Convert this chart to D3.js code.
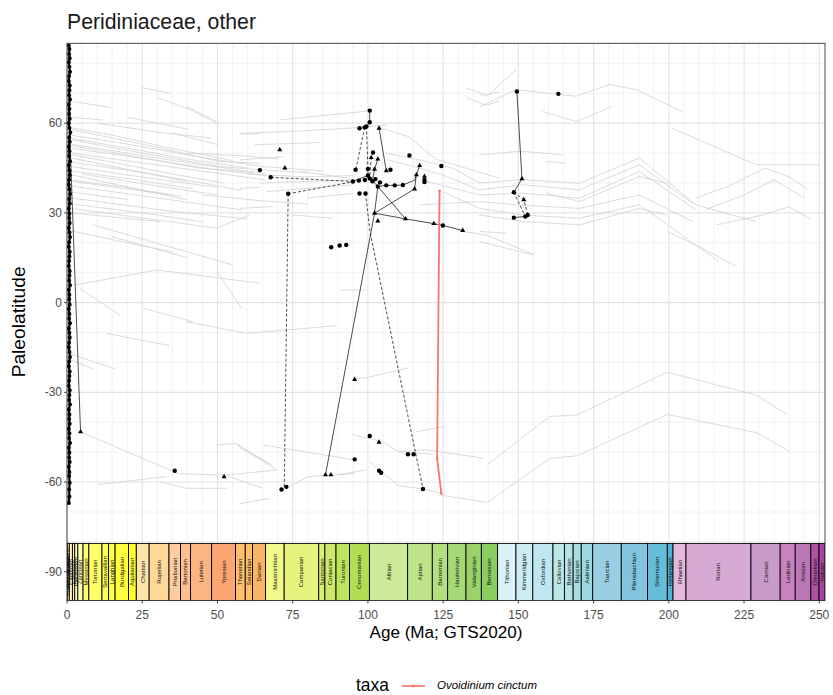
<!DOCTYPE html>
<html><head><meta charset="utf-8">
<script src="https://cdn.jsdelivr.net/npm/d3@7"></script>
<style>body{margin:0;background:#fff;} text{font-family:"Liberation Sans", Arial, Helvetica, sans-serif;}</style>
</head><body>
<svg id="chart" width="833" height="695"></svg>
<script>
// ---------------- data ----------------
const chartTitle = "Peridiniaceae, other";
const xTicks = [0, 25, 50, 75, 100, 125, 150, 175, 200, 225, 250];
const yTicks = [-90, -60, -30, 0, 30, 60];

const stageNames = ["Meghalayan","Northgrippian","Greenlandian","Upper Pleistocene","Chibanian","Calabrian","Gelasian","Piacenzian","Zanclean","Messinian","Tortonian","Serravallian","Langhian","Burdigalian","Aquitanian","Chattian","Rupelian","Priabonian","Bartonian","Lutetian","Ypresian","Thanetian","Selandian","Danian","Maastrichtian","Campanian","Santonian","Coniacian","Turonian","Cenomanian","Albian","Aptian","Barremian","Hauterivian","Valanginian","Berriasian","Tithonian","Kimmeridgian","Oxfordian","Callovian","Bathonian","Bajocian","Aalenian","Toarcian","Pliensbachian","Sinemurian","Hettangian","Rhaetian","Norian","Carnian","Ladinian","Anisian","Olenekian","Induan"];
const stageBases = [0.0042,0.0082,0.0117,0.129,0.774,1.80,2.58,3.60,5.333,7.246,11.63,13.82,15.98,20.44,23.03,27.3,33.9,37.71,41.03,48.07,56.0,59.24,61.66,66.0,72.17,83.65,85.7,89.4,93.9,100.5,113.2,121.4,126.5,132.6,137.7,143.1,149.2,154.8,161.5,165.3,168.2,170.9,174.7,184.2,192.9,199.5,201.4,205.7,227.3,237.0,242.0,247.2,249.9,251.9];
const stageColors = ["#FDEDEC","#FDECE4","#FEECDB","#FFF2D3","#FFF2C7","#FFF2BA","#FFEDB3","#FFFFBF","#FFFFB3","#FFFF73","#FFFF66","#FFFF59","#FFFF4D","#FFFF41","#FFFF33","#FEE6AA","#FED99A","#FDCDA1","#FDC091","#FCB482","#FCA773","#FDBF6F","#FEBF65","#FDB462","#F2FA8C","#E6F47F","#D9EF74","#CCE968","#BFE35D","#B3DE53","#CCEA97","#BFE48A","#B3DF7F","#A6D975","#99D36A","#8CCD60","#D9F1F7","#CCECF4","#BFE7F1","#BFE7E5","#B3E2E3","#A6DDE0","#9AD9DD","#99CEE3","#80C5DD","#67BCD8","#4EB3D3","#E3B9DB","#D6AAD3","#C99BCB","#C983BF","#BC75B7","#B051A5","#A4469F"];

// background paleolatitude tracks (age Ma, paleolatitude)
const grayTracks = [
 [[2.1,67.2],[14.8,65.2]],
 [[24.8,71.9],[34.2,70.0]],
 [[30.3,68.4],[41.0,64.5],[49.7,60.0]],
 [[39.7,65.6],[49.7,60.6]],
 [[57.4,56.4],[64.0,56.4]],
 [[35.3,56.6],[50.2,52.8]],
 [[1.6,57.8],[25.0,53.0],[50.8,47.2],[64.0,46.6]],
 [[1.6,54.4],[25.0,50.0],[50.8,45.5],[64.0,44.4],[80.0,43.5]],
 [[1.6,51.6],[30.0,47.5],[49.7,44.4],[66.0,42.5]],
 [[1.6,50.0],[30.0,46.0],[49.7,43.3],[66.0,41.0]],
 [[1.6,48.3],[39.8,40.5]],
 [[1.6,42.7],[39.8,34.4]],
 [[2.1,40.5],[34.2,36.0]],
 [[1.6,31.5],[49.7,24.9],[60.7,29.3]],
 [[8.6,26.0],[55.1,12.6]],
 [[1.6,29.9],[30.9,27.1]],
 [[2.7,5.9],[29.9,10.9],[64.0,6.5]],
 [[49.8,10.4],[58.1,-2.0]],
 [[4.3,4.7],[17.6,-4.2]],
 [[25.3,-1.9],[41.9,-6.4]],
 [[1.2,56.0],[20.0,53.0],[45.0,48.5],[65.0,45.5],[85.0,44.0]],
 [[1.2,53.0],[20.0,50.0],[45.0,46.0],[66.0,43.2]],
 [[1.2,45.5],[25.0,42.0],[50.0,38.5]],
 [[1.2,44.0],[20.0,41.5],[42.0,38.0]],
 [[1.2,39.0],[30.0,35.0],[58.0,31.0]],
 [[1.2,37.0],[20.0,34.5]],
 [[1.2,35.0],[35.0,30.5],[60.0,28.0]],
 [[1.2,58.5],[15.0,56.0],[35.0,51.5],[55.0,47.5]],
 [[1.2,55.0],[18.0,52.0],[40.0,48.0],[60.0,45.0]],
 [[1.2,52.5],[22.0,49.0],[44.0,45.0],[62.0,43.5]],
 [[1.2,49.5],[15.0,47.0],[35.0,43.0],[52.0,40.0]],
 [[1.2,47.0],[25.0,43.5],[45.0,40.0],[58.0,37.5]],
 [[5.0,43.0],[30.0,39.0],[50.0,36.0]],
 [[1.2,41.0],[20.0,38.5],[38.0,35.5]],
 [[1.2,33.0],[25.0,30.0],[45.0,27.0]],
 [[10.0,60.0],[30.0,57.0],[48.0,55.0]],
 [[20.0,62.0],[40.0,58.0]],
 [[1.2,62.0],[12.0,61.0]],
 [[40.0,50.0],[60.0,49.0],[70.0,48.0]],
 [[45.0,36.0],[65.0,34.0],[80.0,33.0]],
 [[1.2,24.0],[20.0,20.0],[35.0,17.0]],
 [[15.0,22.0],[40.0,15.0]],
 [[64.0,40.0],[80.0,40.5],[95.0,41.0]],
 [[60.0,43.0],[80.0,42.0],[95.0,42.5]],
 [[70.7,61.1],[100.6,64.1]],
 [[57.4,56.6],[74.0,57.2],[93.9,58.3],[106.2,59.4]],
 [[104.0,58.5],[113.5,55.5],[122.5,48.0],[143.7,41.6]],
 [[62.4,52.8],[84.0,53.5]],
 [[66.3,37.1],[95.0,39.4]],
 [[106.0,50.0],[117.2,47.7],[128.2,44.9],[137.1,40.0],[151.4,41.1],[170.3,39.9],[190.2,48.3],[209.0,32.7],[229.0,27.1]],
 [[106.2,47.8],[117.2,45.0],[126.1,42.2],[137.1,37.7],[151.4,39.4],[170.3,37.7],[190.2,46.1],[207.9,33.2]],
 [[119.5,40.5],[137.1,36.0],[151.4,36.6],[170.3,34.9],[190.2,43.8],[209.0,31.0]],
 [[159.2,36.6],[170.3,33.8],[190.2,42.2],[199.1,39.9]],
 [[117.2,32.7],[137.1,33.8],[149.3,32.7],[170.3,31.5],[190.2,36.0],[207.9,27.1]],
 [[124.9,37.1],[137.1,31.5],[151.4,29.3],[170.3,28.2],[190.2,32.7],[216.7,13.7]],
 [[137.1,29.3],[151.4,27.1],[170.3,26.0],[190.2,31.5],[199.1,29.3]],
 [[137.1,23.8],[146.0,23.2]],
 [[131.4,23.8],[139.4,22.6],[155.3,16.0]],
 [[137.1,20.4],[154.8,16.0]],
 [[199.5,23.8],[210.1,18.7],[222.7,12.0]],
 [[209.0,35.0],[220.0,39.0],[232.0,45.0],[240.0,42.0],[246.0,38.0]],
 [[212.0,31.0],[225.0,36.0],[235.0,41.0],[245.0,35.0]],
 [[216.0,26.0],[230.0,29.0],[240.0,32.0],[247.0,28.0]],
 [[75.1,29.3],[88.4,28.2]],
 [[137.1,69.6],[139.4,69.0],[149.4,77.9]],
 [[137.1,65.5],[149.3,71.2],[169.2,69.0],[180.2,72.9],[189.2,71.2],[204.4,63.9]],
 [[158.0,63.9],[169.2,60.5],[181.2,65.6]],
 [[201.1,58.3],[229.0,46.1],[250.0,46.1]],
 [[137.1,49.4],[149.3,50.5],[152.6,50.5],[164.6,49.4]],
 [[159.2,47.2],[165.8,46.6]],
 [[132.8,71.7],[139.4,69.5],[143.7,70.5]],
 [[132.8,68.5],[139.4,66.0],[143.7,67.5]],
 [[77.3,43.8],[93.9,41.6]],
 [[80.0,35.0],[95.0,36.5]],
 [[57.4,47.7],[71.8,48.8]],
 [[57.4,38.2],[64.1,38.5]],
 [[57.4,31.5],[68.5,32.1]],
 [[139.7,-54.2],[160.3,-38.1],[169.3,-37.6],[199.5,-23.3],[229.0,-30.9],[239.3,-37.4]],
 [[123.8,-64.3],[139.7,-66.8],[160.3,-52.1],[169.6,-51.2],[199.5,-37.4],[229.3,-43.5],[240.6,-50.1]],
 [[110.0,-49.8],[119.4,-49.2],[138.2,-52.0]],
 [[94.9,-44.2],[104.9,-46.5],[110.0,-49.8],[121.6,-50.7]],
 [[90.6,-57.5],[99.6,-55.9]],
 [[100.6,-53.2],[110.0,-61.2],[118.3,-62.3],[124.4,-63.8]],
 [[95.6,-25.4],[99.6,-25.1],[113.4,-21.8]],
 [[116.2,-43.2],[125.1,-41.5]],
 [[90.6,4.2],[99.5,4.2]],
 [[39.7,-6.4],[59.6,-10.3],[89.5,-7.7]],
 [[13.2,-10.3],[34.2,-14.4]],
 [[1.0,-17.1],[15.9,-22.1]],
 [[1.0,-19.0],[8.6,-22.1]],
 [[4.5,-43.2],[37.0,-57.2],[52.2,-57.7],[69.6,-56.0]],
 [[10.4,-60.8],[33.1,-58.2]],
 [[30.9,-59.9],[39.7,-62.1],[53.0,-62.1]],
 [[49.7,-47.6],[56.3,-47.1],[69.6,-56.0]],
 [[56.4,-47.5],[66.4,-53.2]],
 [[57.4,-48.6],[68.4,-54.5]],
 [[53.0,-57.9],[65.2,-62.1]],
 [[57.4,-67.2],[67.4,-65.5]],
 [[65.2,-47.6],[95.6,-52.6]],
 [[74.0,-61.6],[80.0,-58.2],[95.6,-57.1]]
];

// modern (≈0 Ma) occurrences
const modernColumn = [[0.6,86.0],[0.8,84.8],[0.7,83.1],[0.9,81.7],[0.6,80.4],[0.8,78.9],[1.0,77.2],[0.7,75.8],[0.6,74.1],[0.9,72.6],[0.8,71.0],[0.7,69.3],[1.0,67.9],[0.6,66.2],[0.8,64.8],[0.7,63.1],[0.9,61.5],[0.6,60.0],[0.8,58.4],[1.1,56.9],[0.7,55.2],[0.9,53.8],[0.6,52.1],[0.8,50.6],[0.7,49.0],[1.0,47.3],[0.6,45.9],[0.8,44.2],[0.9,42.7],[0.7,41.1],[0.6,39.4],[0.8,37.9],[1.0,36.3],[0.7,34.6],[0.9,33.1],[0.6,31.5],[0.8,29.8],[0.7,28.3],[0.9,26.6],[0.6,25.0],[0.8,23.4],[1.0,21.9],[0.7,20.2],[0.6,18.7],[0.9,17.0],[0.8,15.4],[0.7,13.9],[0.6,12.2],[0.9,10.6],[0.8,9.1],[0.7,7.4],[1.0,5.8],[0.6,4.3],[0.8,2.6],[0.7,1.1],[0.9,-0.6],[0.6,-2.1],[0.8,-3.8],[0.7,-5.3],[1.0,-6.9],[0.6,-8.6],[0.8,-10.1],[0.9,-11.7],[0.7,-13.4],[0.6,-14.9],[0.8,-16.5],[1.0,-18.2],[0.7,-19.7],[0.6,-21.3],[0.9,-23.0],[0.8,-24.5],[0.7,-26.1],[0.6,-27.8],[0.9,-29.3],[0.8,-30.9],[0.7,-32.6],[1.0,-34.1],[0.6,-35.7],[0.8,-37.4],[0.7,-38.9],[0.9,-40.5],[0.6,-42.2],[0.8,-43.7],[0.7,-45.3],[1.0,-46.9],[0.6,-48.5],[0.8,-50.1],[0.7,-51.8],[0.9,-53.3],[0.6,-54.9],[0.8,-56.6],[0.7,-58.0],[0.9,-60.2],[0.7,-62.5],[0.8,-64.8],[0.6,-67.0]];

const blackCircles = [[64.1,44.3],[67.7,41.9],[73.5,36.4],[100.6,64.2],[100.6,60.3],[97.2,58.3],[98.9,58.6],[99.5,58.9],[101.7,50.2],[95.9,44.4],[100.0,44.7],[107.5,44.4],[113.8,49.2],[124.4,45.7],[118.8,40.3],[118.8,41.0],[95.0,40.5],[97.0,40.8],[99.0,41.0],[100.0,42.5],[100.6,41.5],[101.5,40.6],[102.5,41.3],[104.0,40.2],[103.3,38.8],[106.1,39.2],[108.9,39.2],[111.6,39.3],[97.2,36.5],[99.2,36.5],[124.9,25.8],[87.8,18.5],[90.6,19.1],[92.8,19.3],[149.5,70.6],[163.3,69.8],[148.5,36.9],[153.1,29.3],[152.3,28.8],[148.5,28.4],[35.8,-56.2],[71.3,-62.5],[72.9,-61.6],[95.6,-52.4],[100.6,-44.6],[103.7,-56.2],[104.4,-56.9],[113.3,-50.7],[115.2,-50.7],[118.3,-62.3]];
const blackTriangles = [[70.7,51.1],[72.4,45.0],[103.7,58.3],[103.3,48.0],[101.1,48.5],[102.2,44.6],[106.1,44.1],[117.2,45.8],[116.1,42.7],[118.8,42.2],[115.5,38.0],[102.2,29.9],[103.3,27.3],[112.5,28.0],[121.9,26.4],[131.5,24.1],[151.2,41.4],[151.8,34.4],[4.5,-43.2],[52.2,-58.2],[85.9,-57.6],[87.7,-57.6],[95.6,-25.7],[103.7,-46.7]];

const blackSolid = [
 [[0.6,65.0],[4.5,-43.2]],
 [[100.6,64.2],[100.6,60.3],[99.5,58.9]],
 [[103.7,58.3],[106.1,44.1]],
 [[103.3,48.0],[102.2,44.6],[101.5,40.6]],
 [[85.9,-57.6],[102.2,29.9]],
 [[102.2,29.9],[112.5,28.0],[121.9,26.4],[124.9,25.8],[131.5,24.1]],
 [[102.2,29.9],[115.5,38.0]],
 [[103.3,38.8],[102.2,29.9]],
 [[103.3,38.8],[112.5,28.0]],
 [[115.5,38.0],[116.1,42.7],[117.2,45.8]],
 [[95.0,40.5],[100.0,42.5],[103.3,38.8],[106.1,39.2],[108.9,39.2],[111.6,39.3],[115.5,40.9],[116.1,42.7]],
 [[149.5,70.6],[151.2,41.4],[148.5,36.9]],
 [[148.5,28.4],[152.3,28.8],[153.1,29.3]]
];
const blackDashed = [
 [[67.7,41.9],[95.0,40.5]],
 [[73.5,36.4],[95.6,40.5]],
 [[73.5,36.4],[72.2,-61.8]],
 [[98.9,58.6],[96.1,45.0],[95.9,44.4]],
 [[99.5,58.9],[100.0,44.7],[100.0,42.5]],
 [[101.7,50.2],[101.1,48.5],[100.6,41.5]],
 [[99.2,36.5],[100.7,23.7],[118.3,-62.3]],
 [[148.5,36.9],[151.8,34.4],[153.1,29.3]],
 [[148.5,36.9],[152.3,28.8]]
];

const taxaNames = ["Ovoidinium cinctum"];
const taxaColors = ["#F8766D"];
const ovoidinium = [[123.8,37.4],[123.0,-52.1],[124.4,-63.8]];

// ---------------- drawing ----------------
const svg = d3.select("#chart");
const L = 67, R = 825, T = 43.3, B = 600.5;
const x = d3.scaleLinear().domain([0, 251.9]).range([L, R]);
const y = d3.scaleLinear().domain([-99.6, 86.7]).range([B, T]);

svg.append("rect").attr("width", 833).attr("height", 695).attr("fill", "#fff");

function fit(sel, target) {
  const len = sel.node().getComputedTextLength();
  const fs = parseFloat(sel.attr("font-size"));
  sel.attr("font-size", (fs * target / len).toFixed(2));
}

// title
const title = svg.append("text").attr("x", 67).attr("y", 29).attr("font-size", 17).attr("fill", "#1a1a1a").text(chartTitle);
fit(title, 189);

const panel = svg.append("g");
const clipId = "pclip";
svg.append("clipPath").attr("id", clipId).append("rect").attr("x", L).attr("y", T).attr("width", R - L).attr("height", B - T);

// grid
const minorX = d3.range(0, 252, 5).filter(v => !xTicks.includes(v));
const minorY = d3.range(-100, 90, 10).filter(v => !yTicks.includes(v));
panel.selectAll(".gxm").data(minorX).join("line").attr("x1", d => x(d)).attr("x2", d => x(d)).attr("y1", T).attr("y2", B).attr("stroke", "#EDEDED").attr("stroke-width", 0.7);
panel.selectAll(".gym").data(minorY).join("line").attr("y1", d => y(d)).attr("y2", d => y(d)).attr("x1", L).attr("x2", R).attr("stroke", "#EDEDED").attr("stroke-width", 0.7);
panel.selectAll(".gxM").data(xTicks).join("line").attr("x1", d => x(d)).attr("x2", d => x(d)).attr("y1", T).attr("y2", B).attr("stroke", "#E4E4E4").attr("stroke-width", 1.1);
panel.selectAll(".gyM").data(yTicks).join("line").attr("y1", d => y(d)).attr("y2", d => y(d)).attr("x1", L).attr("x2", R).attr("stroke", "#E4E4E4").attr("stroke-width", 1.1);

const line = d3.line().x(d => x(d[0])).y(d => y(d[1]));
const data = svg.append("g").attr("clip-path", `url(#${clipId})`);

data.selectAll(".gt").data(grayTracks).join("path").attr("d", line).attr("fill", "none").attr("stroke", "#CFCFCF").attr("stroke-width", 0.75);

data.append("path").attr("d", line(modernColumn)).attr("fill", "none").attr("stroke", "#000").attr("stroke-width", 2.2);
data.selectAll(".bs").data(blackSolid).join("path").attr("d", line).attr("fill", "none").attr("stroke", "#000").attr("stroke-width", 0.7);
data.selectAll(".bd").data(blackDashed).join("path").attr("d", line).attr("fill", "none").attr("stroke", "#000").attr("stroke-width", 0.7).attr("stroke-dasharray", "3,2");

data.selectAll(".mc").data(modernColumn).join("circle").attr("cx", d => x(d[0])).attr("cy", d => y(d[1])).attr("r", 2.0).attr("fill", "#000");
data.selectAll(".bc").data(blackCircles).join("circle").attr("cx", d => x(d[0])).attr("cy", d => y(d[1])).attr("r", 2.2).attr("fill", "#000");
const tri = d3.symbol().type(d3.symbolTriangle).size(11);
data.selectAll(".bt").data(blackTriangles).join("path").attr("d", tri).attr("transform", d => `translate(${x(d[0])},${y(d[1])})`).attr("fill", "#000");

// Ovoidinium cinctum
data.append("path").attr("d", line(ovoidinium)).attr("fill", "none").attr("stroke", taxaColors[0]).attr("stroke-width", 1.8);
data.selectAll(".oc").data(ovoidinium).join("circle").attr("cx", d => x(d[0])).attr("cy", d => y(d[1])).attr("r", 1.3).attr("fill", taxaColors[0]);

// geological time scale band
const stageTops = [0].concat(stageBases.slice(0, -1));
const band = svg.append("g").attr("clip-path", `url(#${clipId})`);
const bandTop = y(-80.5), bandBot = B;
const stages = stageNames.map((n, i) => ({name: n, top: stageTops[i], base: stageBases[i], color: stageColors[i]}));
band.selectAll("rect").data(stages).join("rect")
  .attr("x", d => x(d.top)).attr("width", d => x(d.base) - x(d.top))
  .attr("y", bandTop).attr("height", bandBot - bandTop)
  .attr("fill", d => d.color).attr("stroke", "#000").attr("stroke-width", 0.9);
band.selectAll("text").data(stages).join("text")
  .attr("transform", d => `translate(${(x(d.top) + x(d.base)) / 2 + 2},${(bandTop + bandBot) / 2}) rotate(-90)`)
  .attr("text-anchor", "middle").attr("font-size", 6).attr("fill", "#111").text(d => d.name);

// panel border
svg.append("rect").attr("x", L).attr("y", T).attr("width", R - L).attr("height", B - T).attr("fill", "none").attr("stroke", "#333").attr("stroke-width", 0.9);

// axes
const xAxis = svg.append("g");
xAxis.selectAll("line").data(xTicks).join("line").attr("x1", d => x(d)).attr("x2", d => x(d)).attr("y1", B).attr("y2", B + 3).attr("stroke", "#333").attr("stroke-width", 0.9);
xAxis.selectAll("text").data(xTicks).join("text").attr("x", d => x(d)).attr("y", 619).attr("text-anchor", "middle").attr("font-size", 12).attr("fill", "#4D4D4D").text(d => d);
const yAxis = svg.append("g");
yAxis.selectAll("line").data(yTicks).join("line").attr("x1", L - 3).attr("x2", L).attr("y1", d => y(d)).attr("y2", d => y(d)).attr("stroke", "#333").attr("stroke-width", 0.9);
yAxis.selectAll("text").data(yTicks).join("text").attr("x", L - 5).attr("y", d => y(d) + 4).attr("text-anchor", "end").attr("font-size", 12).attr("fill", "#4D4D4D").text(d => d);

const xt = svg.append("text").attr("x", (L + R) / 2).attr("y", 638).attr("text-anchor", "middle").attr("font-size", 14).attr("fill", "#000").text("Age (Ma; GTS2020)");
fit(xt, 153);
const yt = svg.append("text").attr("transform", `translate(25,${(T + B) / 2}) rotate(-90)`).attr("text-anchor", "middle").attr("font-size", 14).attr("fill", "#000").text("Paleolatitude");
fit(yt, 111);

// legend
const lg = svg.append("g");
const lt = lg.append("text").attr("x", 356).attr("y", 691).attr("font-size", 14).attr("fill", "#000").text("taxa");
fit(lt, 33);
lg.selectAll("line.k").data(taxaColors).join("line").attr("x1", 402).attr("x2", 425).attr("y1", 686).attr("y2", 686).attr("stroke", d => d).attr("stroke-width", 1.7);
lg.selectAll("circle.k").data(taxaColors).join("circle").attr("cx", 413.5).attr("cy", 686).attr("r", 1.4).attr("fill", d => d);
const ll = lg.selectAll("text.k").data(taxaNames).join("text").attr("x", 437).attr("y", 689).attr("font-size", 9).attr("font-style", "italic").attr("fill", "#000").text(d => d);
fit(ll, 100);
</script>
</body></html>
